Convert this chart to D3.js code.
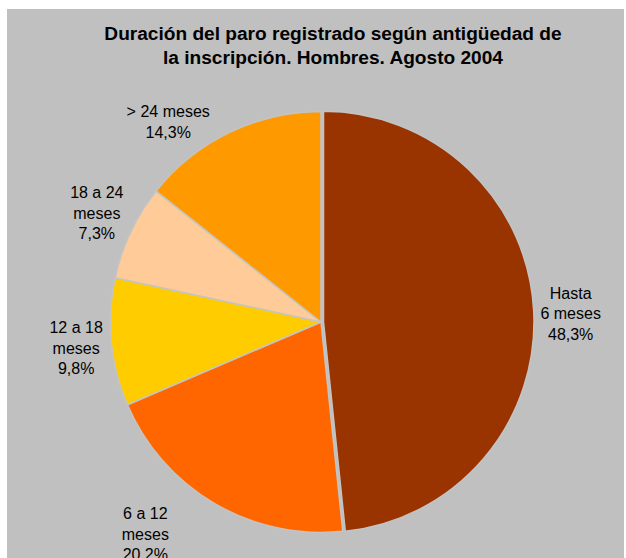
<!DOCTYPE html>
<html>
<head>
<meta charset="utf-8">
<script src="https://cdn.jsdelivr.net/npm/d3@7"></script>
<style>
	body { margin: 0; background: #ffffff; }
	svg { display: block; font-family: "Liberation Sans", Arial, sans-serif; }
</style>
</head>
<body>
<div id="chart"></div>
<script>
// chart data
var titleLines = ["Duración del paro registrado según antigüedad de", "la inscripción. Hombres. Agosto 2004"];
var categories = ["Hasta 6 meses", "6 a 12 meses", "12 a 18 meses", "18 a 24 meses", "> 24 meses"];
var labelLines = [["Hasta", "6 meses"], ["6 a 12", "meses"], ["12 a 18", "meses"], ["18 a 24", "meses"], ["> 24 meses"]];
var percents = [48.3, 20.2, 9.8, 7.3, 14.3];
var colors = ["#993300", "#FF6600", "#FFCC00", "#FFCC99", "#FF9900"];
//
(function(){
	var width = 626,
		height = 558,
		cx = 321,
		cy = 322,
		radius = 210.5,
		labelRadius = 248,
		explode = [2.5, 0, 0, 0, 0],
		// excel moved two labels away from their slice bisector
		labelShift = [[2, 4], [-50, -2], [2, 2], [0, -3], [-45, 23]],
		lineHeight = 20.5,
		svg, pieGroup, arcs, arc, pie;
	//
	svg = d3.select("#chart").append("svg").attr("width", width).attr("height", height);
	//
	svg.append("rect")
		.attr("x", 7)
		.attr("y", 9)
		.attr("width", 617)
		.attr("height", height - 9)
		.attr("fill", "#C0C0C0");
	//
	svg.append("g").selectAll("text")
		.data(titleLines)
		.enter()
		.append("text")
		.attr("x", 333)
		.attr("y", function(d, i){ return 40 + i * 24; })
		.attr("text-anchor", "middle")
		.style("font-weight", "bold")
		.style("font-size", "19.1px")
		.attr("fill", "#000000")
		.text(function(d){ return d; });
	//
	pie = d3.pie().sort(null).value(function(d){ return d; });
	arc = d3.arc().innerRadius(0).outerRadius(radius);
	arcs = pie(percents);
	//
	pieGroup = svg.append("g").attr("transform", "translate(" + cx + "," + cy + ")");
	//
	pieGroup.selectAll("path")
		.data(arcs)
		.enter()
		.append("path")
		.attr("d", arc)
		.attr("fill", function(d, i){ return colors[i]; })
		.attr("stroke", "#C4C4C4")
		.attr("stroke-width", 1.5)
		.attr("stroke-linejoin", "round")
		.attr("transform", function(d, i){
			var mid = (d.startAngle + d.endAngle) / 2;
			return "translate(" + (Math.sin(mid) * explode[i]) + "," + (-Math.cos(mid) * explode[i]) + ")";
		});
	//
	var labels = pieGroup.selectAll("g.label")
		.data(arcs)
		.enter()
		.append("g")
		.attr("class", "label")
		.attr("transform", function(d, i){
			var mid = (d.startAngle + d.endAngle) / 2,
				x = Math.sin(mid) * labelRadius + labelShift[i][0],
				y = -Math.cos(mid) * labelRadius + labelShift[i][1];
			return "translate(" + x + "," + y + ")";
		});
	//
	labels.each(function(d, i){
		var lines = labelLines[i].concat([d.value.toFixed(1).replace(".", ",") + "%"]),
			top = -(lines.length - 1) * lineHeight / 2 + 6;
		d3.select(this).selectAll("text")
			.data(lines)
			.enter()
			.append("text")
			.attr("x", 0)
			.attr("y", function(t, j){ return top + j * lineHeight; })
			.attr("text-anchor", "middle")
			.style("font-size", "16px")
			.attr("fill", "#000000")
			.text(function(t){ return t; });
	});
})();
</script>
</body>
</html>
